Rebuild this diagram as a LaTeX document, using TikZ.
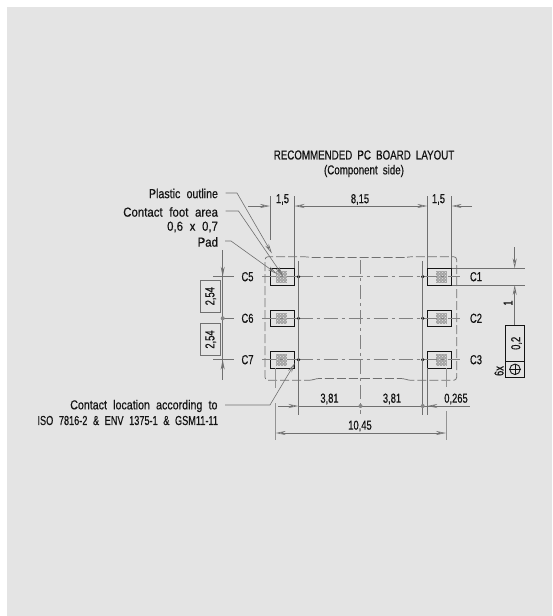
\documentclass[tikz,border=0pt]{standalone}
\usepackage{fontspec}
\setmainfont[FakeStretch=0.72,WordSpace=2.2,FakeBold=0.5]{Liberation Sans}
\newfontfamily\capf[FakeStretch=0.75,WordSpace=1.9,FakeBold=0.5]{Liberation Sans}
\newfontfamily\lowf[FakeStretch=0.88,WordSpace=2.1,FakeBold=0.5]{Liberation Sans}
\newfontfamily\midf[FakeStretch=0.82,WordSpace=2.1,FakeBold=0.5]{Liberation Sans}
\newfontfamily\isof[FakeStretch=0.705,WordSpace=2.2,FakeBold=0.5]{Liberation Sans}
\usetikzlibrary{arrows.meta,patterns}
\definecolor{bgg}{HTML}{E4E4E4}
\definecolor{dimc}{HTML}{707070}
\definecolor{ink}{HTML}{141414}
\tikzset{
 x=1pt,y=-1pt,
 lab/.style={font=\fontsize{13}{14}\selectfont,text=ink,inner sep=0pt,outer sep=0pt},
 capl/.style={lab,font=\fontsize{13}{14}\capf},
 lowl/.style={lab,font=\fontsize{13}{14}\lowf},
 midl/.style={lab,font=\fontsize{13}{14}\midf,anchor=east},
 isol/.style={lab,font=\fontsize{13}{14}\isof,anchor=east},
 labr/.style={lowl,anchor=east},
 rot/.style={lab,rotate=90},
 dimline/.style={draw=dimc,line width=.7pt},
 thin line/.style={draw=dimc,line width=.6pt},
 center line/.style={draw=dimc!85!bgg,line width=.6pt,dash pattern=on 14pt off 4pt on 3pt off 4pt},
 outline/.style={draw=dimc,line width=.7pt,dash pattern=on 9pt off 3pt,rounded corners=3pt},
 ext/.style={draw=dimc!70!bgg,line width=1pt},
 padbox/.style={draw=ink,line width=1pt},
 tip/.style={-{Stealth[open,length=10pt,width=4pt,line width=.6pt]}},
 twotip/.style={{Stealth[open,length=10pt,width=4pt,line width=.6pt]}-{Stealth[open,length=10pt,width=4pt,line width=.6pt]}},
 tol/.style={draw=ink,line width=.9pt},
 dot/.style={circle,fill=ink,inner sep=0pt,minimum size=3.6pt},
 hollow/.style={circle,fill=dimc!80!bgg,inner sep=0pt,minimum size=4pt},
}
\begin{document}
\begin{tikzpicture}
\useasboundingbox (0,0) rectangle (552,616);
\fill[white] (0,0) rectangle (552,616);
\fill[bgg] (7,7) rectangle (552,616);
% pads
\foreach \n/\ya/\yb in {a/268.3/285,b/310/326.7,c/351/368}{
 \fill[dimc!55!bgg] (275.5,\ya+2.5) rectangle (287,\yb-2.5);
 \fill[dimc!55!bgg] (436,\ya+2.5) rectangle (447,\yb-2.5);
 \fill[pattern=crosshatch dots,pattern color=bgg] (275.5,\ya+2.5) rectangle (287,\yb-2.5);
 \fill[pattern=crosshatch dots,pattern color=bgg] (436,\ya+2.5) rectangle (447,\yb-2.5);
 \draw[padbox] (270,\ya) rectangle (294.5,\yb);
 \draw[padbox] (427.3,\ya) rectangle (451.7,\yb);
}
% outline
\draw[outline] (312,257.5) -- (305,256.7) -- (265,256.7) -- (265,380.3) -- (312,380.3) -- (316,378.5) -- (404,378.5) -- (408,380.3) -- (456.7,380.3) -- (456.7,256.7) -- (410,256.7) -- (406,257.5) -- cycle;
% centre lines
\foreach \y in {276.7,318.3,359.7}{
 \draw[center line] (262,\y) -- (298.5,\y);
 \draw[center line] (298.5,\y) -- (422.7,\y);
 \draw[center line] (422.7,\y) -- (460,\y);
 \node[dot] (d\y) at (298.5,\y) {};
 \node[dot] (e\y) at (422.7,\y) {};
}
\draw[center line] (360.5,260) -- (360.5,414);
\draw[thin line] (298.5,261) -- (298.5,415);
\draw[thin line] (422.7,261) -- (422.7,415);
% top dims
\draw[thin line] (270,196) -- (270,240);
\foreach \x in {294.5,427.3,451.6}{\draw[thin line] (\x,196) -- (\x,268);}
\coordinate (t0) at (248,206); \coordinate (t1) at (270,206);
\coordinate (t2) at (294.5,206); \coordinate (t3) at (427.3,206);
\coordinate (t4) at (451.6,206); \coordinate (t5) at (472,206);
\draw[dimline,tip] (t0) -- (t1);
\draw[dimline,tip] (t5) -- (t4);
\draw[dimline,twotip] (t2) -- (t3);
\node[lab] (d15a) at (282.5,199.5) {1,5};
\node[lab] (d815) at (360,199.5) {8,15};
\node[lab] (d15b) at (438.5,199.5) {1,5};
% title
\node[capl] (title) at (364,155) {RECOMMENDED PC BOARD LAYOUT};
\node[capl] (sub) at (364,171) {(Component side)};
% callouts
\node[midl] (plastic) at (218,193.5) {Plastic outline};
\node[labr] (foot) at (218,212) {Contact foot area};
\node[labr] (size) at (218,227) {0,6 x 0,7};
\node[labr] (pad) at (218,242) {Pad};
\node[midl] (loc) at (217.5,406) {Contact location according to};
\node[isol] (iso) at (218,420.5) {ISO 7816-2 \& ENV 1375-1 \& GSM11-11};
\draw[thin line,tip] (225.7,193) -- (237,193) -- (272,253.5);
\draw[thin line,tip] (225.7,211) -- (238.5,211) -- (283,276);
\draw[thin line,tip] (225,241) -- (231,241) -- (277,274);
\draw[thin line,tip] (225,405) -- (270,405) -- (295,363);
% left labels + dims
\node[lab] (c5) at (247.5,276.7) {C5};
\node[lab] (c6) at (247.5,318.3) {C6};
\node[lab] (c7) at (247.5,359.7) {C7};
\foreach \y in {276.7,359.7}{\draw[thin line] (213,\y) -- (234,\y);}
\draw[thin line] (222.7,318.3) -- (234,318.3);
\draw[thin line] (222.7,250) -- (222.7,380);
\draw[dimline,tip] (222.7,264) -- (222.7,276.7);
\draw[dimline,tip] (222.7,372) -- (222.7,359.7);
\node[hollow] (mid) at (222.7,318.3) {};
\foreach \y/\n in {296.2/p,339.5/q}{
 \node[draw=dimc,line width=.9pt,minimum width=20pt,minimum height=32.3pt,inner sep=0pt] (box\n) at (210.7,\y) {};
 \node[rot] (t\n) at (box\n) {2,54};
}
% right labels
\node[lab] (c1) at (476,276.7) {C1};
\node[lab] (c2) at (476,318.3) {C2};
\node[lab] (c3) at (476,359.7) {C3};
\draw[thin line] (452,268.3) -- (524.5,268.3);
\draw[thin line] (452,285) -- (524.5,285);
\draw[thin line,tip] (514.7,247) -- (514.7,268.3);
\draw[thin line,tip] (514.7,325.7) -- (514.7,285);
\node[rot] (one) at (508,303) {1};
% tolerance frame
\node[tol,minimum width=19.4pt,minimum height=35.3pt,inner sep=0pt] (f1) at (515,343.3) {};
\node[tol,minimum width=19.4pt,minimum height=16.7pt,inner sep=0pt] (f2) at (515,369.3) {};
\node[rot] (val) at (516.5,343.3) {0,2};
\node[circle,tol,minimum size=10.5pt,inner sep=0pt] (pos) at (515,369.3) {};
\draw[tol] (pos.west) -- (pos.east);
\draw[tol] (pos.north) -- (pos.south);
\node[rot] (six) at (499,371) {6x};
% bottom dims
\draw[ext] (275.7,368) -- (275.7,388);
\draw[ext] (275.7,403) -- (275.7,440);
\draw[ext] (446,368) -- (446,387);
\draw[ext] (446,411) -- (446,440);
\draw[thin line] (427.3,368) -- (427.3,415);
\draw[thin line,tip] (278,406) -- (298.5,406);
\draw[thin line] (298.5,406) -- (422.7,406);
\draw[thin line] (422.7,406) -- (470,406);
\draw[dimline,tip] (437,406) -- (427.3,406);
\node[hollow] (m2) at (360.5,406) {};
\node[hollow] (m3) at (422.7,406) {};
\draw[dimline,twotip] (275.7,433) -- (446,433);
\node[lab] (v1) at (329.5,399) {3,81};
\node[lab] (v2) at (392,399) {3,81};
\node[lab] (v3) at (456,399) {0,265};
\node[lab] (v4) at (360,426) {10,45};
\end{tikzpicture}
\end{document}
